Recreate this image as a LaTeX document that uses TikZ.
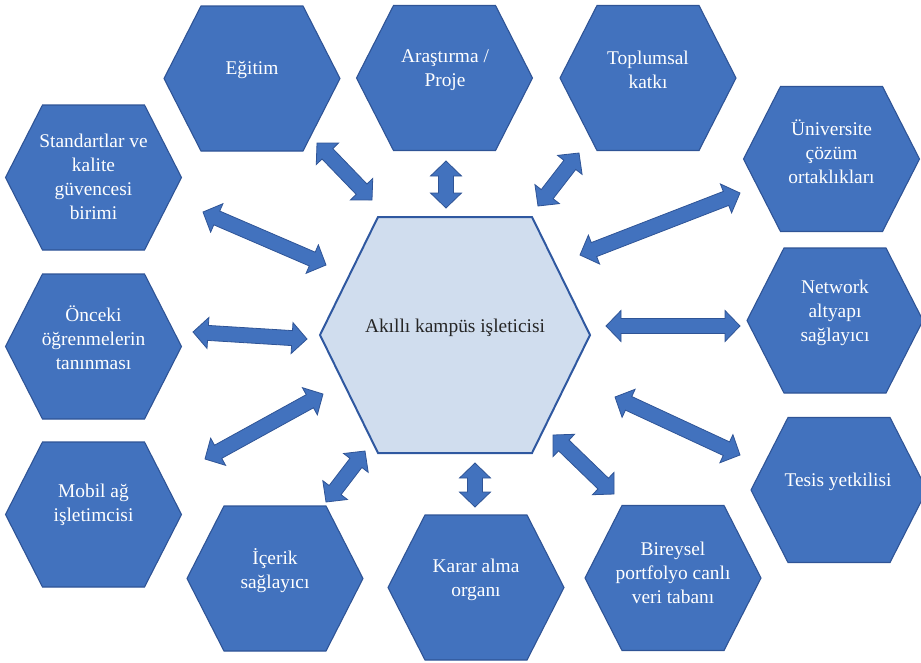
\documentclass[tikz,border=0pt]{standalone}
\usepackage{fontspec}
\setmainfont{Liberation Serif}
\usetikzlibrary{calc}

\definecolor{cellblue}{RGB}{66,114,190}
\definecolor{celledge}{RGB}{47,84,150}
\definecolor{hubfill}{RGB}{208,221,238}
\definecolor{hubedge}{RGB}{47,88,160}
\definecolor{hubtext}{RGB}{38,38,38}

\newcommand{\twoway}[2]{%
    \draw[linkarrow] (#1)
    -- ($(#1)!15pt!(#2)!15.5pt!90:(#2)$) -- ($(#1)!15pt!(#2)!7.5pt!90:(#2)$)
    -- ($(#2)!15pt!(#1)!7.5pt!-90:(#1)$) -- ($(#2)!15pt!(#1)!15.5pt!-90:(#1)$)
    -- (#2)
    -- ($(#2)!15pt!(#1)!15.5pt!90:(#1)$) -- ($(#2)!15pt!(#1)!7.5pt!90:(#1)$)
    -- ($(#1)!15pt!(#2)!7.5pt!-90:(#2)$) -- ($(#1)!15pt!(#2)!15.5pt!-90:(#2)$)
    -- cycle;}

\begin{document}
\begin{tikzpicture}[x = 1pt, y = -1pt,
    hexcell/.pic = {\draw[fill=cellblue, draw=celledge, line width=1.1pt]
        (-88,0) -- (-51,-72.5) -- (51,-72.5) -- (88,0) -- (51,72.5) -- (-51,72.5) -- cycle;},
    celltext/.style = {text=white, align=center, inner sep=0pt, font=\fontsize{19.4}{24}\selectfont},
    linkarrow/.style = {fill=cellblue, draw=celledge, line width=0.8pt, line join=miter}]
    \useasboundingbox (0,0) rectangle (921,662);
    \draw[fill=hubfill, draw=hubedge, line width=2pt]
    (320,335) -- (378,217) -- (532,217) -- (590,335) -- (532,453) -- (378,453) -- cycle;
    \node[celltext, text=hubtext] (kampus) at (455,328) {Akıllı kampüs işleticisi};

    \pic at (252,78.5) {hexcell};
    \pic at (444.5,78) {hexcell};
    \pic at (648,78) {hexcell};
    \pic at (93.5,177.5) {hexcell};
    \pic at (831.5,159) {hexcell};
    \pic at (93.5,346.5) {hexcell};
    \pic at (835,320.5) {hexcell};
    \pic at (93.5,514.5) {hexcell};
    \pic at (839,490) {hexcell};
    \pic at (275,578.5) {hexcell};
    \pic at (476,587.5) {hexcell};
    \pic at (673,578) {hexcell};

    \node[celltext] (egitim) at (252,70) {Eğitim};
    \node[celltext] (arge) at (445,70) {Araştırma /\\Proje};
    \node[celltext] (toplum) at (648,70) {Toplumsal\\katkı};
    \node[celltext] (standart) at (93.5,177) {Standartlar ve\\kalite\\güvencesi\\birimi};
    \node[celltext] (cozum) at (831.5,152) {Üniversite\\çözüm\\ortaklıkları};
    \node[celltext] (onceki) at (93.5,338) {Önceki\\öğrenmelerin\\tanınması};
    \node[celltext] (network) at (835,313) {Network\\altyapı\\sağlayıcı};
    \node[celltext] (mobil) at (93.5,505) {Mobil ağ\\işletimcisi};
    \node[celltext] (tesis) at (838,482) {Tesis yetkilisi};
    \node[celltext] (icerik) at (275,571) {İçerik\\sağlayıcı};
    \node[celltext] (karar) at (476,580) {Karar alma\\organı};
    \node[celltext] (portfolyo) at (673,573) {Bireysel\\portfolyo canlı\\veri tabanı};

    \coordinate (egitim-o) at (317,143);    \coordinate (egitim-h) at (372,200);
    \coordinate (arge-o) at (446,161);      \coordinate (arge-h) at (446,208);
    \coordinate (toplum-o) at (579,153);    \coordinate (toplum-h) at (538,206);
    \coordinate (cozum-o) at (740,193);     \coordinate (cozum-h) at (580,255);
    \coordinate (standart-o) at (203,212);  \coordinate (standart-h) at (326,265);
    \coordinate (onceki-o) at (193,332);    \coordinate (onceki-h) at (307,339);
    \coordinate (network-o) at (740,326);   \coordinate (network-h) at (606,326);
    \coordinate (mobil-o) at (205,459);     \coordinate (mobil-h) at (323,394);
    \coordinate (icerik-o) at (326,502);    \coordinate (icerik-h) at (365,451);
    \coordinate (karar-o) at (475,507);     \coordinate (karar-h) at (475,463);
    \coordinate (portfolyo-o) at (614,494); \coordinate (portfolyo-h) at (553,435);
    \coordinate (tesis-o) at (740,455);     \coordinate (tesis-h) at (615,397);

    \twoway{egitim-o}{egitim-h}
    \twoway{arge-o}{arge-h}
    \twoway{toplum-o}{toplum-h}
    \twoway{cozum-o}{cozum-h}
    \twoway{standart-o}{standart-h}
    \twoway{onceki-o}{onceki-h}
    \twoway{network-o}{network-h}
    \twoway{mobil-o}{mobil-h}
    \twoway{icerik-o}{icerik-h}
    \twoway{karar-o}{karar-h}
    \twoway{portfolyo-o}{portfolyo-h}
    \twoway{tesis-o}{tesis-h}
\end{tikzpicture}
\end{document}
